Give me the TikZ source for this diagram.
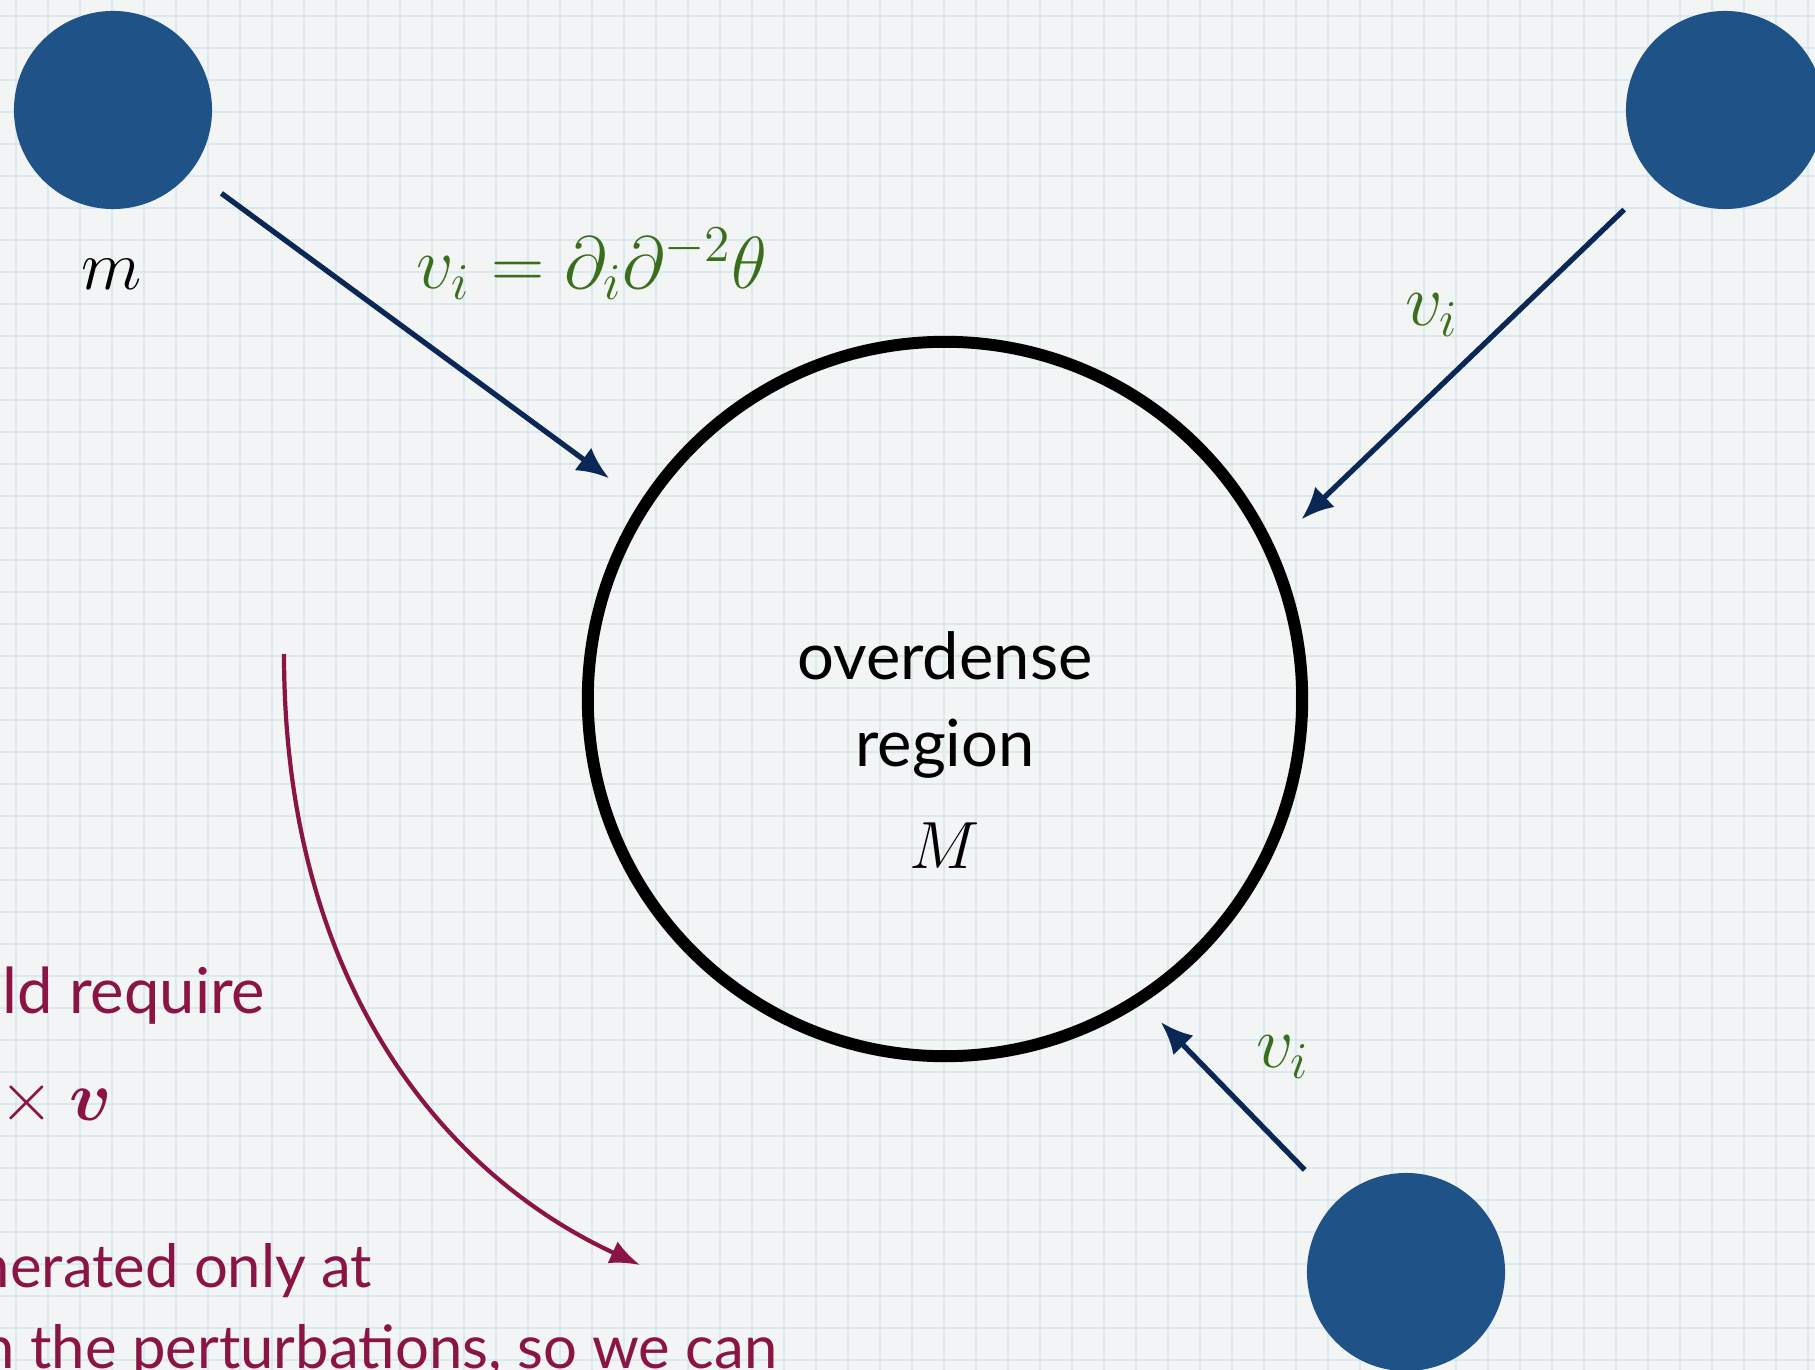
\RequirePackage{fix-cm}
\documentclass[tikz,border=0pt]{standalone}
\usepackage{amsmath,amssymb,bm}
\usepackage{fontspec}
\setmainfont{Lato}
\usepackage{xcolor}
\usepackage{tikz}
\usetikzlibrary{positioning}
\usetikzlibrary{arrows.meta}

\definecolor{paper}{RGB}{243,244,244}
\definecolor{gridblue}{RGB}{216,233,241}
\definecolor{massblue}{RGB}{31,82,135}
\definecolor{arrownavy}{RGB}{10,39,86}
\definecolor{velgreen}{RGB}{59,110,28}
\definecolor{notered}{RGB}{138,21,69}

\begin{document}
\begin{tikzpicture}[
    x=0.01cm, y=-0.01cm,
    mass/.style={circle, fill=massblue, minimum size=1.98cm, inner sep=0pt},
    region/.style={draw=black, circle, line width=3.4pt, minimum size=7.14cm, inner sep=0pt},
    flow/.style={draw=arrownavy, line width=1.5pt, -{Latex[length=0.32cm,width=0.28cm]}},
    swirl/.style={draw=notered, line width=1.2pt, -{Latex[length=0.3cm,width=0.24cm]}},
    vel/.style={text=velgreen, font=\fontsize{21}{25}\selectfont},
    note/.style={text=notered, font=\fontsize{17}{21}\selectfont},
    gridline/.style={draw=gridblue, line width=0.6pt}
  ]
    % Feuille quadrillée
    \useasboundingbox (0,0) rectangle (1815,1370);
    \fill[paper] (0,0) rectangle (1815,1370);
    \foreach \k in {0,...,56}
      \draw[gridline] ({16+32*\k},0) -- ({16+32*\k},1370);
    \foreach \k in {0,...,42}
      \draw[gridline] (0,{16+32*\k}) -- (1815,{16+32*\k});

    % Région surdense
    \node[region] (overdense) at (945,699) {};
    \node[align=center, font=\fontsize{18.5}{25}\selectfont] (overdensetxt) at (945,750)
      {overdense\\region\\[4pt]{\fontsize{19}{24}\selectfont$M$}};

    % Masses
    \node[mass] (massA) at (113,110) {};
    \node[mass] (massB) at (1725,110) {};
    \node[mass] (massC) at (1406,1272) {};
    \node[font=\fontsize{20}{24}\selectfont] (mlabel) at (112,274) {$m$};

    % Vitesses
    \draw[flow, shorten <=0.37cm, shorten >=0.39cm] (massA.-38) -- (overdense.147);
    \draw[flow, shorten <=0.42cm, shorten >=0.38cm] (massB.225) -- (overdense.25);
    \draw[flow, shorten <=0.44cm, shorten >=0.26cm] (massC.135) -- (overdense.-57);

    \node[vel] (flowlaw) at (592,264) {$v_i=\partial_i\partial^{-2}\theta$};
    \node[vel] (velB) at (1432,315) {$v_i$};
    \node[vel] (velC) at (1283,1057) {$v_i$};

    % Texte à gauche (coupé)
    \node[note, anchor=base east, inner sep=0pt, font=\fontsize{18}{21}\selectfont] (noteA) at (266,1013) {ld require};
    \node[note, anchor=base east, inner sep=0pt, font=\fontsize{20}{24}\selectfont] (noteB) at (113,1120) {${}\times\bm{v}$};
    \node[note, anchor=base east, inner sep=0pt] (noteC) at (373,1287) {nerated only at};
    \node[note, anchor=base east, inner sep=0pt] (noteD) at (778,1368) {n the perturbations, so we can};

    % Flèche courbe
    \coordinate (swirlstart) at (284,654);
    \coordinate (swirlend) at (640,1265);
    \draw[swirl] (swirlstart) .. controls (284,985) and (445,1175) .. (swirlend);
\end{tikzpicture}
\end{document}
